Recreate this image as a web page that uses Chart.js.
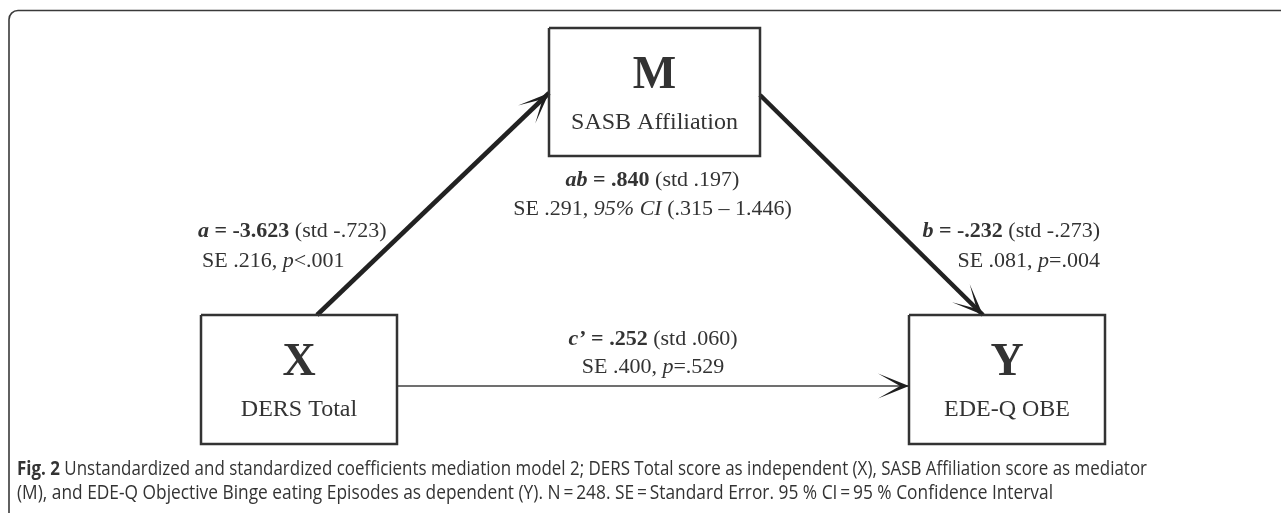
<!DOCTYPE html>
<html>
<head>
<meta charset="utf-8">
<script src="https://cdn.jsdelivr.net/npm/chart.js@4"></script>
<style>
  html, body { margin: 0; padding: 0; background: #fff; }
  canvas { display: block; }
</style>
</head>
<body>
<canvas id="model" width="1281" height="513"></canvas>
<script>
// variables of the mediation model
var nodeKeys = ['X', 'M', 'Y'];
var nodeLabels = ['DERS Total', 'SASB Affiliation', 'EDE-Q OBE'];

// direct paths: a (X->M), b (M->Y), c' (X->Y)
var pathNames = ['a', 'b', 'c\u2019'];
var pathFrom = ['X', 'M', 'X'];
var pathTo = ['M', 'Y', 'Y'];
var unstdCoef = [-3.623, -0.232, 0.252];
var stdCoef = [-0.723, -0.273, 0.060];
var seCoef = [0.216, 0.081, 0.400];
var pOps = ['<', '=', '='];
var pValues = [0.001, 0.004, 0.529];

// indirect effect ab
var indirectCoef = [0.840, 0.197];   // unstd, std
var indirectSE = [0.291];
var indirectCI = [0.315, 1.446];

var captionBold = 'Fig. 2';
var captionLines = [
    ' Unstandardized and standardized coefficients mediation model 2; DERS Total score as independent (X), SASB Affiliation score as mediator',
    '(M), and EDE-Q Objective Binge eating Episodes as dependent (Y). N\u2009=\u2009248. SE\u2009=\u2009Standard Error. 95 % CI\u2009=\u200995 % Confidence Interval'
];

// layout (chart units = pixels of the figure)
var boxes = {
    X: { cx: 299, cy: 379.5, w: 196, h: 129 },
    M: { cx: 654.5, cy: 92, w: 211, h: 128 },
    Y: { cx: 1007, cy: 379.5, w: 196, h: 129 }
};
// where each arrow leaves / enters a box: [side, offset along the side]
var pathAnchors = [
    [['top', 18], ['left', 1]],
    [['right', 3], ['top', -24]],
    [['right', 6.5], ['left', 6.5]]
];
var pathStyle = [
    { color: '#222', width: 4.5 },
    { color: '#222', width: 4.5 },
    { color: '#707070', width: 1.8 }
];

function fmt(v) {
    return v.toFixed(3).replace(/^(-?)0\./, '$1.');
}

function anchor(key, side, off) {
    var b = boxes[key];
    if (side === 'top') return { x: b.cx + off, y: b.cy - b.h / 2 };
    if (side === 'bottom') return { x: b.cx + off, y: b.cy + b.h / 2 };
    if (side === 'left') return { x: b.cx - b.w / 2, y: b.cy + off };
    return { x: b.cx + b.w / 2, y: b.cy + off };
}

var datasets = [];
nodeKeys.forEach(function(k) {
    var b = boxes[k];
    var l = b.cx - b.w / 2, r = b.cx + b.w / 2, t = b.cy - b.h / 2, bo = b.cy + b.h / 2;
    datasets.push({
        label: k,
        data: [{x: l, y: t}, {x: r, y: t}, {x: r, y: bo}, {x: l, y: bo}, {x: l, y: t}],
        showLine: true, borderColor: '#333', borderWidth: 2.5,
        pointRadius: 0, clip: false, fill: false
    });
});
var arrowEnds = [];
pathNames.forEach(function(n, i) {
    var p0 = anchor(pathFrom[i], pathAnchors[i][0][0], pathAnchors[i][0][1]);
    var p1 = anchor(pathTo[i], pathAnchors[i][1][0], pathAnchors[i][1][1]);
    arrowEnds.push([p0, p1]);
    datasets.push({
        label: n,
        data: [p0, p1],
        showLine: true, borderColor: pathStyle[i].color, borderWidth: pathStyle[i].width,
        pointRadius: 0, clip: false, fill: false
    });
});

var SERIF = '"Liberation Serif", "Times New Roman", serif';
var R = '22px ' + SERIF, B = 'bold 22px ' + SERIF, I = 'italic 22px ' + SERIF, BI = 'italic bold 22px ' + SERIF;

function drawRuns(ctx, parts, x, y, align) {
    var total = 0;
    parts.forEach(function(p) { ctx.font = p[1]; total += ctx.measureText(p[0]).width; });
    var sx = align === 'center' ? x - total / 2 : (align === 'right' ? x - total : x);
    ctx.textAlign = 'left';
    parts.forEach(function(p) {
        ctx.font = p[1];
        ctx.fillText(p[0], sx, y);
        sx += ctx.measureText(p[0]).width;
    });
}

function coefRuns(i) {
    return [
        [[pathNames[i], BI], [' = ' + fmt(unstdCoef[i]), B], [' (std ' + fmt(stdCoef[i]) + ')', R]],
        [['SE ' + fmt(seCoef[i]) + ', ', R], ['p', I], [pOps[i] + fmt(pValues[i]), R]]
    ];
}

var diagram = {
    id: 'diagram',
    beforeDraw: function(chart) {
        var ctx = chart.ctx;
        ctx.save();
        ctx.fillStyle = '#fff';
        ctx.fillRect(0, 0, chart.width, chart.height);
        // page frame (cut off at right and bottom)
        ctx.strokeStyle = '#3a3a3a';
        ctx.lineWidth = 1.6;
        ctx.beginPath();
        ctx.roundRect(9, 10.5, 1400, 600, 9);
        ctx.stroke();
        ctx.restore();
    },
    afterDatasetsDraw: function(chart) {
        var ctx = chart.ctx, xs = chart.scales.x, ys = chart.scales.y;
        ctx.save();

        // arrow heads
        arrowEnds.forEach(function(e, i) {
            var x0 = xs.getPixelForValue(e[0].x), y0 = ys.getPixelForValue(e[0].y);
            var x1 = xs.getPixelForValue(e[1].x), y1 = ys.getPixelForValue(e[1].y);
            var len = Math.hypot(x1 - x0, y1 - y0);
            var ux = (x1 - x0) / len, uy = (y1 - y0) / len, nx = -uy, ny = ux;
            var L = 31, W = 12.5, N = 9;
            ctx.fillStyle = '#1e1e1e';
            ctx.beginPath();
            ctx.moveTo(x1, y1);
            ctx.lineTo(x1 - L * ux + W * nx, y1 - L * uy + W * ny);
            ctx.lineTo(x1 - N * ux, y1 - N * uy);
            ctx.lineTo(x1 - L * ux - W * nx, y1 - L * uy - W * ny);
            ctx.closePath();
            ctx.fill();
        });

        ctx.fillStyle = '#333';
        ctx.textBaseline = 'alphabetic';

        // node letters and names
        nodeKeys.forEach(function(k, i) {
            var b = boxes[k];
            var cx = xs.getPixelForValue(b.cx), top = ys.getPixelForValue(b.cy - b.h / 2);
            ctx.textAlign = 'center';
            ctx.font = 'bold 46px ' + SERIF;
            ctx.fillText(k, cx, top + 59.5);
            ctx.font = '24px ' + SERIF;
            ctx.fillText(nodeLabels[i], cx, top + 101);
        });

        // path labels
        var a = coefRuns(0), bb = coefRuns(1), c = coefRuns(2);
        drawRuns(ctx, a[0], 198, 237, 'left');
        drawRuns(ctx, a[1], 202, 267, 'left');
        drawRuns(ctx, bb[0], 1100, 237, 'right');
        drawRuns(ctx, bb[1], 1100, 267, 'right');
        var cMid = (arrowEnds[2][0].x + arrowEnds[2][1].x) / 2;
        drawRuns(ctx, c[0], xs.getPixelForValue(cMid), 345, 'center');
        drawRuns(ctx, c[1], xs.getPixelForValue(cMid), 373, 'center');

        // indirect effect
        var mx = xs.getPixelForValue(boxes.M.cx) - 2;
        drawRuns(ctx, [['ab', BI], [' = ' + fmt(indirectCoef[0]), B], [' (std ' + fmt(indirectCoef[1]) + ')', R]], mx, 186, 'center');
        drawRuns(ctx, [['SE ' + fmt(indirectSE[0]) + ', ', R], ['95% CI', I],
            [' (' + fmt(indirectCI[0]) + ' \u2013 ' + fmt(indirectCI[1]) + ')', R]], mx, 215, 'center');

        // caption, fitted to the width of the printed lines
        var SANS = '"Open Sans", "Noto Sans", sans-serif';
        var fitLine = function(parts, x, y, target) {
            var total = 0;
            parts.forEach(function(p) { ctx.font = p[1]; total += ctx.measureText(p[0]).width; });
            ctx.save();
            ctx.translate(x, y);
            ctx.scale(target / total, 1);
            var sx = 0;
            ctx.textAlign = 'left';
            parts.forEach(function(p) {
                ctx.font = p[1];
                ctx.fillText(p[0], sx, 0);
                sx += ctx.measureText(p[0]).width;
            });
            ctx.restore();
        };
        ctx.fillStyle = '#333';
        fitLine([[captionBold, 'bold 20px ' + SANS], [captionLines[0], '20px ' + SANS]], 17, 475, 1130);
        fitLine([[captionLines[1], '20px ' + SANS]], 17, 499, 1036);

        ctx.restore();
    }
};

new Chart(document.getElementById('model').getContext('2d'), {
    type: 'scatter',
    data: { datasets: datasets },
    options: {
        responsive: false,
        animation: false,
        devicePixelRatio: 1,
        layout: { padding: 0 },
        plugins: { legend: { display: false }, tooltip: { enabled: false } },
        scales: {
            x: { type: 'linear', min: 0, max: 1281, display: false },
            y: { type: 'linear', min: 0, max: 513, reverse: true, display: false }
        }
    },
    plugins: [diagram]
});
</script>
</body>
</html>
